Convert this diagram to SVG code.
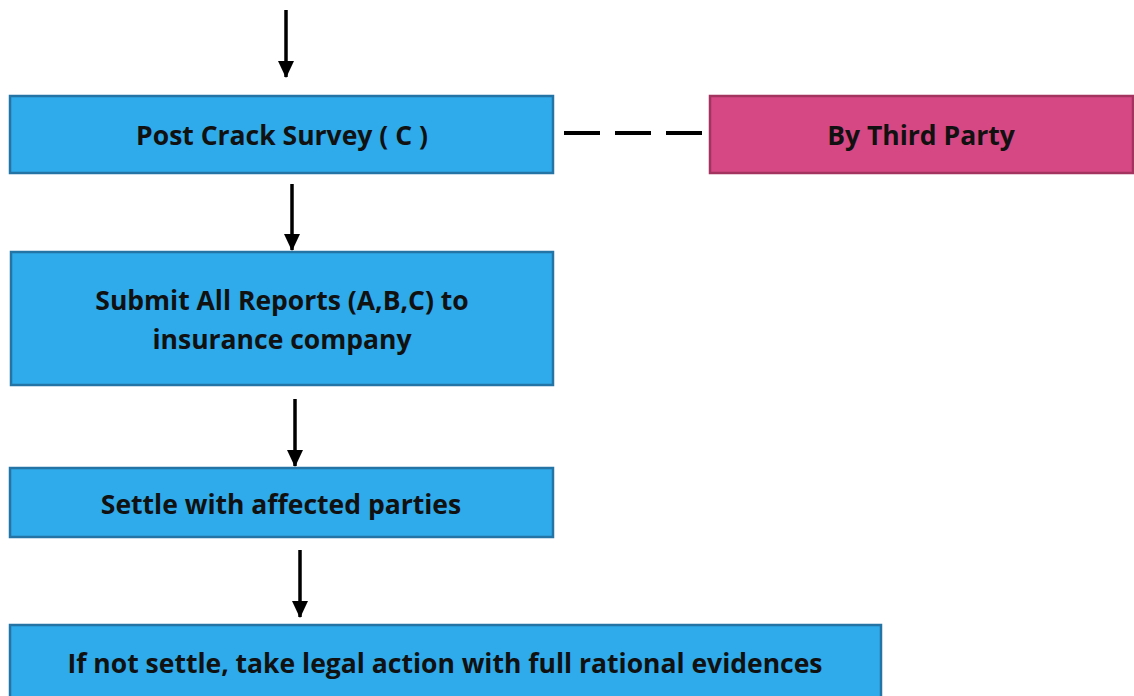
<svg xmlns="http://www.w3.org/2000/svg" width="1134" height="696" viewBox="0 0 1134 696">
<style>
.box{fill:#2FAAEA;stroke:#2474A6;stroke-width:2.5}
.pink{fill:#D64884;stroke:#A3335F;stroke-width:2.5}
.t{font-family:"Open Sans",Lato,"Liberation Sans",sans-serif;font-weight:bold;font-size:26.5px;fill:#111;text-anchor:middle}
.c{stroke:#000;stroke-width:3.5;fill:none}
.d{stroke:#000;stroke-width:4;fill:none;stroke-dasharray:36 15}
</style>
<defs>
<marker id="ah" markerWidth="17" markerHeight="16" refX="16" refY="8" orient="auto" markerUnits="userSpaceOnUse" viewBox="0 0 17 16">
<path d="M0,0 L17,8 L0,16 Z" fill="#000"/>
</marker>
</defs>
<rect width="1134" height="696" fill="#fff"/>
<g id="connectors">
<line class="c" x1="286" y1="10" x2="286" y2="77" marker-end="url(#ah)"/>
<line class="c" x1="292" y1="184" x2="292" y2="250" marker-end="url(#ah)"/>
<line class="c" x1="295" y1="399" x2="295" y2="466" marker-end="url(#ah)"/>
<line class="c" x1="300" y1="550" x2="300" y2="617" marker-end="url(#ah)"/>
<line class="d" x1="564" y1="133" x2="703" y2="133"/>
</g>
<g id="post-crack-survey">
<rect class="box" x="10" y="96" width="543" height="77"/>
<text class="t" x="282" y="145">Post Crack Survey ( C )</text>
</g>
<g id="by-third-party">
<rect class="pink" x="710" y="96" width="423" height="77"/>
<text class="t" x="921" y="145">By Third Party</text>
</g>
<g id="submit-reports">
<rect class="box" x="11" y="252" width="542" height="133"/>
<text class="t" x="282" y="310">Submit All Reports (A,B,C) to</text>
<text class="t" x="282" y="349">insurance company</text>
</g>
<g id="settle">
<rect class="box" x="10" y="468" width="543" height="69"/>
<text class="t" x="281" y="514">Settle with affected parties</text>
</g>
<g id="legal-action">
<rect class="box" x="10" y="625" width="871" height="80"/>
<text class="t" x="445" y="673">If not settle, take legal action with full rational evidences</text>
</g>
</svg>
